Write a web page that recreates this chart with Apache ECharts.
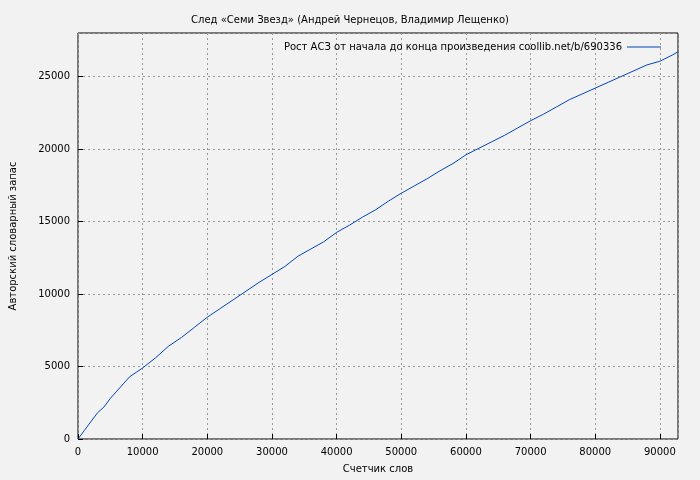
<!DOCTYPE html>
<html><head><meta charset="utf-8">
<script src="https://cdn.jsdelivr.net/npm/echarts@6/dist/echarts.min.js"></script>
<style>body{margin:0;background:#f2f2f2}#c{width:700px;height:480px}</style>
</head><body><div id="c"></div>
<script>
const xs=[0,1000,2000,3000,4000,5000,6000,7000,8000,9000,10000,12000,14000,16000,18000,20000,22000,24000,26000,28000,30000,32000,34000,36000,38000,40000,42000,44000,46000,48000,50000,52000,54000,56000,58000,60000,62000,64000,66000,68000,70000,72000,74000,76000,78000,80000,82000,84000,86000,88000,90000,92000,92800];
const ys=[0,600,1200,1800,2200,2800,3300,3800,4300,4600,4900,5600,6400,7000,7700,8400,9000,9600,10200,10800,11350,11900,12600,13100,13600,14250,14750,15300,15800,16400,16950,17450,17950,18500,19000,19600,20050,20500,20950,21450,21950,22400,22900,23400,23800,24200,24600,25000,25400,25800,26050,26500,26700];
const seriesName='Рост АСЗ от начала до конца произведения coollib.net/b/690336';
const c=echarts.init(document.getElementById('c'));
const font='DejaVu Sans';
c.setOption({
 backgroundColor:'#f2f2f2',
 animation:false,
 textStyle:{fontFamily:font},
 title:{text:'След «Семи Звезд» (Андрей Чернецов, Владимир Лещенко)',left:'center',top:10,textStyle:{fontSize:10,fontWeight:'normal',color:'#000',fontFamily:font}},
 legend:{top:37,right:34,align:'right',itemWidth:34,itemHeight:1,icon:'rect',itemGap:0,textStyle:{fontSize:10,color:'#000',fontFamily:font},data:[{name:seriesName,icon:'rect'}]},
 grid:{left:75,right:22,top:33,bottom:41,show:true,borderColor:'#000',borderWidth:1,backgroundColor:'#f2f2f2'},
 xAxis:{type:'value',min:0,max:92800,interval:10000,name:'Счетчик слов',nameLocation:'middle',nameGap:25,nameTextStyle:{fontSize:10,color:'#000'},
  axisLine:{show:false},axisTick:{inside:true,lineStyle:{color:'#000'}},axisLabel:{fontSize:10,color:'#000',showMaxLabel:false,formatter:v=>String(v)},
  splitLine:{lineStyle:{color:'#999',type:[2,3]}}},
 yAxis:{type:'value',min:0,max:28000,interval:5000,name:'Авторский словарный запас',nameLocation:'middle',nameGap:60,nameTextStyle:{fontSize:10,color:'#000'},
  axisLine:{show:false},axisTick:{inside:true,lineStyle:{color:'#000'}},axisLabel:{fontSize:10,color:'#000',showMaxLabel:false,formatter:v=>String(v)},
  splitLine:{lineStyle:{color:'#999',type:[2,3]}}},
 series:[{name:seriesName,type:'line',data:xs.map((x,i)=>[x,ys[i]]),showSymbol:false,lineStyle:{color:'#0047b3',width:1},itemStyle:{color:'#0047b3'}}]
});
</script></body></html>
